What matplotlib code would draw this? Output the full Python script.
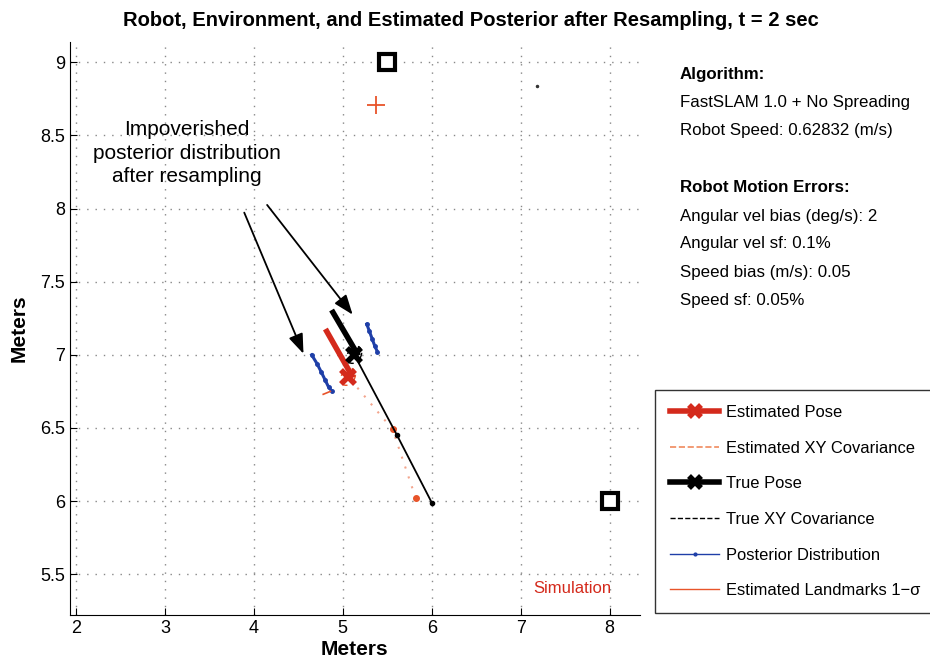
import matplotlib
matplotlib.use('Agg')
import matplotlib.pyplot as plt
import numpy as np
from matplotlib.lines import Line2D

plt.rcParams['font.family'] = ['Liberation Sans', 'DejaVu Sans']

# landmarks
LM_X = [5.5, 8.0]
LM_Y = [9.0, 6.0]
EST_LM_X = [5.37]
EST_LM_Y = [8.71]
FAINT_X = [7.18]
FAINT_Y = [8.84]

# true path and pose
TRUE_PATH_X = [6.0, 5.61, 5.13]
TRUE_PATH_Y = [5.99, 6.45, 7.0]
TRUE_POSE = (5.13, 7.0)
TRUE_HEAD_X = [5.16, 4.89]
TRUE_HEAD_Y = [7.01, 7.29]

# estimated path and pose
EST_PATH_X = [5.82, 5.56, 5.06]
EST_PATH_Y = [6.02, 6.49, 6.85]
EST_POSE = (5.06, 6.85)
EST_HEAD_X = [5.10, 4.82]
EST_HEAD_Y = [6.86, 7.16]

# posterior particles (two clumps)
PART1_X = [4.65, 4.71, 4.76, 4.80, 4.84, 4.88]
PART1_Y = [7.00, 6.94, 6.88, 6.83, 6.78, 6.75]
PART2_X = [5.27, 5.30, 5.33, 5.36, 5.39]
PART2_Y = [7.21, 7.16, 7.11, 7.06, 7.02]

fig = plt.figure(figsize=(9.3, 6.65), dpi=100)
ax = fig.add_axes([0.075, 0.075, 0.613, 0.862])

# faint estimated path dots
ax.plot(EST_PATH_X, EST_PATH_Y, ls=(0, (1, 4)), color='#f3a48c', lw=1.5)
ax.plot(EST_PATH_X[:2], EST_PATH_Y[:2], 'o', color='#e8542a', ms=4, ls='none')

# true path
ax.plot(TRUE_PATH_X, TRUE_PATH_Y, '-', color='black', lw=1.3)
ax.plot(TRUE_PATH_X[:2], TRUE_PATH_Y[:2], 'o', color='black', ms=3, ls='none')

# particles
ax.plot(PART1_X, PART1_Y, '.-', color='#1f3fa8', lw=2.2, ms=5)
ax.plot(PART2_X, PART2_Y, '.-', color='#1f3fa8', lw=2.2, ms=5)

# covariance ellipses
t = np.linspace(0, 2 * np.pi, 60)
for (cx, cy), col in [(EST_POSE, '#e8542a'), (TRUE_POSE, 'black')]:
    ax.plot(cx + 0.10 * np.cos(t) * 0.8 - 0.02 * np.sin(t),
            cy + 0.05 * np.sin(t) + 0.03 * np.cos(t),
            '--', color=col, lw=1.0, dashes=(4, 6))
ax.plot([4.78, 4.86], [6.73, 6.75], '-', color='#e8542a', lw=1.2)

# headings and poses
ax.plot(EST_HEAD_X, EST_HEAD_Y, '-', color='#d42a1c', lw=4)
ax.plot(*EST_POSE, 'x', color='#d42a1c', ms=10, mew=4)
ax.plot(TRUE_HEAD_X, TRUE_HEAD_Y, '-', color='black', lw=4)
ax.plot(*TRUE_POSE, 'x', color='black', ms=10, mew=4)

# landmarks
ax.plot(LM_X, LM_Y, 's', mfc='white', mec='black', ms=11, mew=3, ls='none')
ax.plot(EST_LM_X, EST_LM_Y, '+', color='#e8542a', ms=13, mew=1.3, ls='none')
ax.plot(FAINT_X, FAINT_Y, '.', color='#333333', ms=3)

# annotation arrows
ax.annotate('', xy=(4.57, 6.99), xytext=(3.88, 7.99),
            arrowprops=dict(arrowstyle='-|>,head_length=1.2,head_width=0.45',
                            color='black', lw=1.3))
ax.annotate('', xy=(5.13, 7.26), xytext=(4.13, 8.04),
            arrowprops=dict(arrowstyle='-|>,head_length=1.2,head_width=0.45',
                            color='black', lw=1.3))
ax.text(3.25, 8.38, 'Impoverished\nposterior distribution\nafter resampling',
        ha='center', va='center', fontsize=15, linespacing=1.3)
ax.text(8.02, 5.40, 'Simulation', ha='right', va='center', color='#d42a1c',
        fontsize=12)

ax.set_xlim(1.93, 8.34)
ax.set_ylim(5.22, 9.14)
ax.set_xticks([2, 3, 4, 5, 6, 7, 8])
ax.set_yticks([5.5, 6, 6.5, 7, 7.5, 8, 8.5, 9])
ax.set_yticklabels(['5.5', '6', '6.5', '7', '7.5', '8', '8.5', '9'])
ax.tick_params(direction='in', labelsize=13, length=5)
ax.grid(True, ls=(0, (1, 5)), color='#888888', lw=1.0)
ax.spines['top'].set_visible(False)
ax.spines['right'].set_visible(False)
ax.set_xlabel('Meters', fontsize=15, fontweight='bold', labelpad=2)
ax.set_ylabel('Meters', fontsize=15, fontweight='bold', labelpad=8)
fig.text(471 / 930, 1 - 20 / 665,
         'Robot, Environment, and Estimated Posterior after Resampling, t = 2 sec',
         fontsize=14.5, fontweight='bold', ha='center', va='center')

# info text
info = [('Algorithm:', True, 75), ('FastSLAM 1.0 + No Spreading', False, 103),
        ('Robot Speed: 0.62832 (m/s)', False, 131),
        ('Robot Motion Errors:', True, 188),
        ('Angular vel bias (deg/s): 2', False, 216),
        ('Angular vel sf: 0.1%', False, 244),
        ('Speed bias (m/s): 0.05', False, 273),
        ('Speed sf: 0.05%', False, 300)]
for txt, bold, py in info:
    fig.text(680 / 930, 1 - py / 665, txt, fontsize=12.2, va='center',
             fontweight='bold' if bold else 'normal')

# legend
handles = [
    Line2D([], [], color='#d42a1c', lw=4, marker='x', ms=9, mew=4),
    Line2D([], [], color='#f08a5d', lw=1.2, ls='--'),
    Line2D([], [], color='black', lw=4, marker='x', ms=9, mew=4),
    Line2D([], [], color='black', lw=1.0, ls='--'),
    Line2D([], [], color='#1f3fa8', lw=1.0, marker='.', ms=4),
    Line2D([], [], color='#e8542a', lw=1.0),
]
labels = ['Estimated Pose', 'Estimated XY Covariance', 'True Pose',
          'True XY Covariance', 'Posterior Distribution',
          'Estimated Landmarks 1\u2212\u03c3']
leg = fig.legend(handles, labels, loc='upper left',
                 bbox_to_anchor=(655 / 930, 1 - 390 / 665),
                 fontsize=11.9, handlelength=3.0, labelspacing=1.25,
                 borderaxespad=0, fancybox=False, edgecolor='black',
                 handletextpad=0.42, borderpad=0.9)
leg.get_frame().set_linewidth(1.0)

fig.savefig('out.png', dpi=100)
